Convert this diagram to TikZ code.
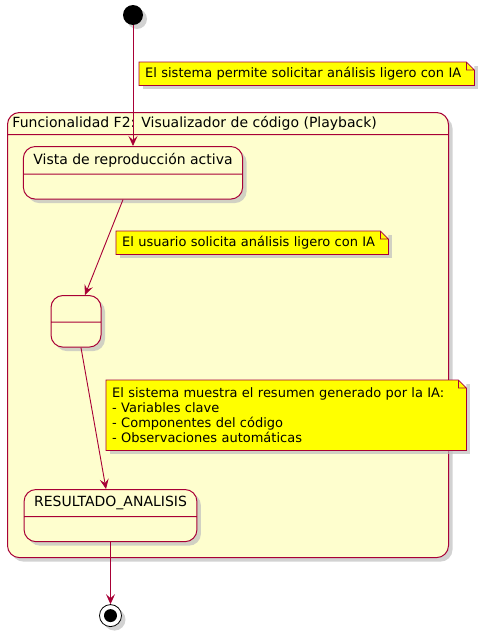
\documentclass[tikz,border=0pt]{standalone}
\usepackage{fontspec}
\setmainfont{DejaVu Sans}
\usetikzlibrary{arrows.meta, positioning, shapes.multipart, shadows}
\definecolor{borde}{HTML}{A80036}
\definecolor{estadofondo}{HTML}{FEFECE}
\definecolor{notafondo}{HTML}{FFFF00}

\begin{document}
\begin{tikzpicture}[
    x=1pt, y=-1pt,
    sombra/.style={drop shadow={shadow xshift=4pt, shadow yshift=-4pt, fill=black!25, opacity=0.7}},
    inicio/.style={circle, fill=black, minimum size=20pt, inner sep=0pt, sombra},
    fin/.style={circle, draw=black, line width=0.8pt, fill=white, minimum size=22pt, inner sep=0pt, sombra,
        path picture={\fill[black] (path picture bounding box.center) circle (6.5pt);}},
    estado/.style={rectangle split, rectangle split parts=2, draw=borde, line width=1pt, fill=estadofondo,
        rounded corners=12pt, inner xsep=10pt, inner ysep=6.25pt, font=\fontsize{14}{16}\selectfont,
        rectangle split empty part height=11.5pt, rectangle split empty part depth=0pt, sombra},
    compuesto/.style={estado, minimum width=441pt, rectangle split part align=left, inner xsep=5pt, inner ysep=3.5pt,
        rectangle split empty part height=415pt},
    nota/.style={fill=notafondo, font=\fontsize{13}{15}\selectfont, align=left, inner xsep=6pt, inner ysep=5pt,
        anchor=north west, sombra},
    notaborde/.style={draw=borde, line width=0.8pt},
    arrow/.style={-{Stealth[length=10pt, width=9pt, inset=4pt]}, draw=borde, line width=0.9pt}
]
\useasboundingbox (0,0) rectangle (480,637);

% Estado compuesto F2
\node[compuesto, anchor=north west] (f2) at (7,112) {Funcionalidad F2: Visualizador de código (Playback)\nodepart{two}};

% Estados
\node[inicio] (ini) at (133,15) {};
\node[estado, anchor=north] (vista) at (133,146) {Vista de reproducción activa\nodepart{two}};
\node[estado, anchor=north, minimum width=50pt] (espera) at (76,295) {\vphantom{Vp}\nodepart{two}};
\node[estado, anchor=north] (resultado) at (110.5,489) {RESULTADO\_ANALISIS\nodepart{two}};
\node[fin, below=62pt of resultado] (final) {};

% Transiciones
\draw[arrow] (ini) -- (vista);
\draw[arrow] ([xshift=-10pt]vista.south) -- ([xshift=9pt]espera.north);
\draw[arrow] ([xshift=5pt]espera.south) -- ([xshift=-4.5pt]resultado.north);
\draw[arrow] (resultado) -- (final);

% Notas
\node[nota, text width=323pt] (nota1) at (139,62) {El sistema permite solicitar análisis ligero con IA};
\node[nota, text width=260pt] (nota2) at (116,231) {El usuario solicita análisis ligero con IA};
\node[nota, text width=348pt, inner ysep=7.5pt] (nota3) at (106,380) {El sistema muestra el resumen generado por la IA:\\- Variables clave\\- Componentes del código\\- Observaciones automáticas};

% Esquina doblada de las notas
\foreach \n/\c in {nota1/white, nota2/estadofondo, nota3/white} {
    \fill[\c] ([xshift=-8pt]\n.north east) -- (\n.north east) -- ([yshift=-8pt]\n.north east) -- cycle;
    \draw[notaborde] (\n.north west) -- ([xshift=-8pt]\n.north east) -- ([yshift=-8pt]\n.north east)
        -- (\n.south east) -- (\n.south west) -- cycle
        ([xshift=-8pt]\n.north east) -- ([xshift=-8pt,yshift=-8pt]\n.north east) -- ([yshift=-8pt]\n.north east);
}

\end{tikzpicture}
\end{document}
